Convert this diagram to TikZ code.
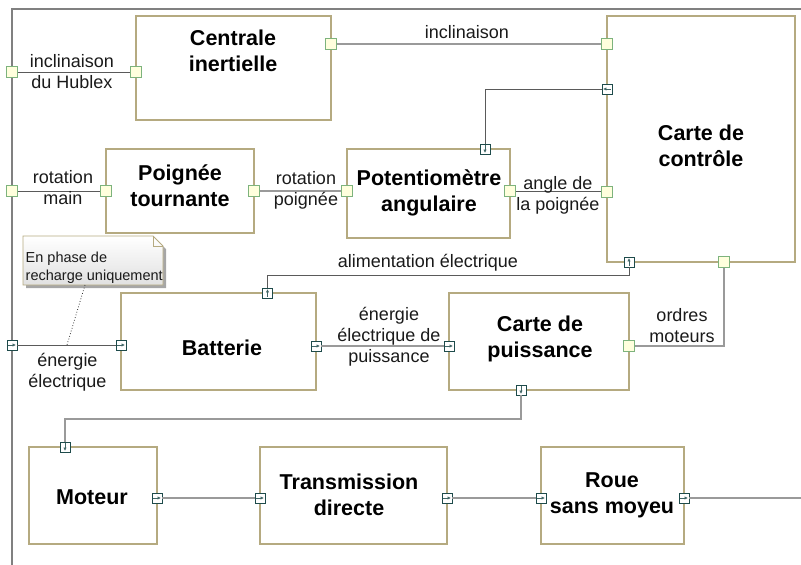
\documentclass[tikz,border=0pt]{standalone}
\usepackage{fontspec}
\setmainfont{Liberation Sans}
\usetikzlibrary{arrows.meta}
\definecolor{boxc}{HTML}{B5AA80}
\definecolor{gfill}{HTML}{FFFFDD}
\definecolor{gdraw}{HTML}{7DB37D}
\definecolor{bdraw}{HTML}{1E4B4B}
\definecolor{lconn}{HTML}{9A9A9A}
\definecolor{dconn}{HTML}{5A5A5A}
\definecolor{framec}{HTML}{808080}
\definecolor{txtc}{HTML}{1A1A1A}
\begin{document}
\begin{tikzpicture}[x=1pt,y=-1pt,
 blk/.style={draw=boxc, line width=1.1pt, fill=white, inner sep=0pt},
 title/.style={font=\fontsize{21.5}{26}\selectfont\bfseries, align=center, text=black, inner sep=0pt},
 lbl/.style={font=\fontsize{18}{21}\selectfont, align=center, text=txtc, inner sep=0pt},
 gport/.style={draw=gdraw, fill=gfill, line width=0.9pt, minimum size=11pt, inner sep=0pt},
 bport/.style={draw=bdraw, fill=white, line width=0.9pt, minimum size=10pt, inner sep=0pt},
 parr/.style={draw=bdraw!85, line width=0.7pt, -{Latex[length=3.2pt,width=3.4pt]}},
 pR/.style={bport, path picture={\draw[parr] ([xshift=-3.8pt]path picture bounding box.center) -- ([xshift=3.8pt]path picture bounding box.center);}},
 pL/.style={bport, path picture={\draw[parr] ([xshift=3.8pt]path picture bounding box.center) -- ([xshift=-3.8pt]path picture bounding box.center);}},
 pU/.style={bport, path picture={\draw[parr] ([yshift=-3.8pt]path picture bounding box.center) -- ([yshift=3.8pt]path picture bounding box.center);}},
 pD/.style={bport, path picture={\draw[parr] ([yshift=3.8pt]path picture bounding box.center) -- ([yshift=-3.8pt]path picture bounding box.center);}},
 lc/.style={draw=lconn, line width=1.5pt},
 dc/.style={draw=dconn, line width=1pt},
]
\useasboundingbox (0,0) rectangle (801,565);

% frame
\coordinate (fTR) at (801,9);
\coordinate (fTL) at (12,9);
\coordinate (fBL) at (12,565);
\draw[framec, line width=1.2pt] (fTR) -- (fTL) -- (fBL);

% blocks
\node[blk, minimum width=195pt, minimum height=104pt] (centrale) at (233.5,68) {};
\node[blk, minimum width=188pt, minimum height=246pt] (controle) at (701,139) {};
\node[blk, minimum width=163pt, minimum height=89pt] (potar) at (428.5,193.5) {};
\node[blk, minimum width=148pt, minimum height=84pt] (poignee) at (180,191) {};
\node[blk, minimum width=195pt, minimum height=97pt] (batterie) at (218.5,341.5) {};
\node[blk, minimum width=180pt, minimum height=97pt] (puissance) at (539,341.5) {};
\node[blk, minimum width=128pt, minimum height=97pt] (moteur) at (93,495.5) {};
\node[blk, minimum width=187pt, minimum height=97pt] (transm) at (353.5,495.5) {};
\node[blk, minimum width=143pt, minimum height=97pt] (roue) at (612.5,495.5) {};

% titles
\node[title] (tcentrale) at (233,51) {Centrale\\inertielle};
\node[title] (tcontrole) at (701,145.5) {Carte de\\contrôle};
\node[title] (tpotar) at (429,193) {Potentiomètre\\angulaire};
\node[title] (tpoignee) at (180,186) {Poignée\\tournante};
\node[title] (tbatterie) at (222,348) {Batterie};
\node[title] (tpuissance) at (540,339) {Carte de\\puissance};
\node[title] (tmoteur) at (92,497) {Moteur};
\node[title] (ttransm) at (349,494.5) {Transmission\\directe};
\node[title] (troue) at (612,495) {Roue\\sans moyeu};

% note
\coordinate (n1) at (23,236);
\coordinate (n2) at (153,236);
\coordinate (n3) at (163,246);
\coordinate (n4) at (163,285);
\coordinate (n5) at (23,285);
\coordinate (n6) at (153,246);
\fill[black!35] ([shift={(3,3)}]n1) -- ([shift={(3,3)}]n2) -- ([shift={(3,3)}]n3) -- ([shift={(3,3)}]n4) -- ([shift={(3,3)}]n5) -- cycle;
\shade[top color=white, bottom color=black!12, draw=boxc, line width=0.9pt] (n1) -- (n2) -- (n3) -- (n4) -- (n5) -- cycle;
\draw[boxc, line width=0.9pt] (n2) -- (n6) -- (n3);
\node[font=\fontsize{14.5}{17.5}\selectfont, align=left, anchor=west, inner sep=0pt, text=txtc] (note) at (25.5,267.5) {En phase de\\recharge uniquement};

% ports
\node[gport] (bL1) at (12,72) {};
\node[gport] (ciL) at (136,72) {};
\node[gport] (ciR) at (331,44) {};
\node[gport] (ccL1) at (607,44) {};
\node[pL] (ccL2) at (607,89) {};
\node[gport] (ccL3) at (607,192) {};
\node[gport] (bL2) at (12,191) {};
\node[gport] (ptL) at (106,191) {};
\node[gport] (ptR) at (254,191) {};
\node[gport] (paL) at (347,191) {};
\node[gport] (paR) at (510,191) {};
\node[pD] (paT) at (485,149) {};
\node[pU] (ccB1) at (629,262) {};
\node[gport] (ccB2) at (724,262) {};
\node[pU] (baT) at (267.5,293) {};
\node[pR] (bL3) at (12,345) {};
\node[pR] (baL) at (121,345) {};
\node[pR] (baR) at (316,346) {};
\node[pR] (cpL) at (449,346) {};
\node[gport] (cpR) at (629,346) {};
\node[pD] (cpB) at (521,390) {};
\node[pD] (moT) at (65,447) {};
\node[pR] (moR) at (157,498) {};
\node[pR] (trL) at (260,498) {};
\node[pR] (trR) at (447,498) {};
\node[pR] (roL) at (541,498) {};
\node[pR] (roR) at (684,498) {};

% helper coordinates
\coordinate (al) at (267.5,275);
\coordinate (pm) at (521,419);
\coordinate (out) at (801,498);
\coordinate (nb) at (85,285);
\coordinate (ne) at (67,345);

% connectors
\draw[dc] (bL1) -- (ciL);
\draw[lc] (ciR) -- (ccL1);
\draw[dc] (ccL2) -| (paT);
\draw[dc] (paR) -- (paR -| ccL3.west);
\draw[dc] (bL2) -- (ptL);
\draw[lc] (ptR) -- (paL);
\draw[dc] (baT) -- (al) -| (ccB1);
\draw[lc] (baR) -- (cpL);
\draw[lc] (cpR) -| (ccB2);
\draw[dc] (bL3) -- (baL);
\draw[lc] (cpB) -- (pm) -| (moT);
\draw[lc] (moR) -- (trL);
\draw[lc] (trR) -- (roL);
\draw[lc] (roR) -- (out);
\draw[black!80, line width=0.8pt, dotted] (nb) -- (ne);

% labels
\node[lbl] (l1) at (72,71.5) {inclinaison\\du Hublex};
\node[lbl] (l2) at (467,32) {inclinaison};
\node[lbl] (l3) at (63,187.5) {rotation\\main};
\node[lbl] (l4) at (306,190) {rotation\\poignée};
\node[lbl] (l5) at (558,195.5) {angle de\\la poignée};
\node[lbl] (l6) at (428,263) {alimentation électrique};
\node[lbl] (l7) at (389,337) {énergie\\électrique de\\puissance};
\node[lbl] (l8) at (682,326) {ordres\\moteurs};
\node[lbl] (l9) at (67.5,372.5) {énergie\\électrique};
\end{tikzpicture}
\end{document}
